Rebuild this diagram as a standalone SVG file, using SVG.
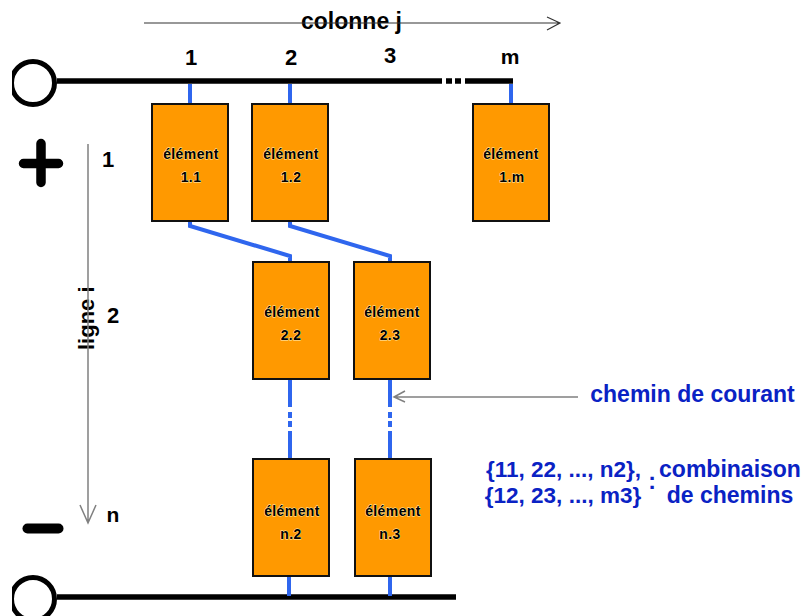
<svg xmlns="http://www.w3.org/2000/svg" width="805" height="616" viewBox="0 0 805 616">
<style>
text{font-family:"Liberation Sans",Arial,sans-serif;font-weight:bold;fill:#000}
.el rect{fill:#ff9900;stroke:#111;stroke-width:2}
.el text{font-size:14px;letter-spacing:.4px;text-anchor:middle;stroke:#fff3c0;stroke-width:.8px;paint-order:stroke}
.num{font-size:22px;text-anchor:middle}
.blue{font-size:23px;fill:#0a22c4;text-anchor:middle}
.br{font-size:22.500px}
.w{fill:none;stroke:#2f66ee;stroke-width:4}
.bus{fill:none;stroke:#000;stroke-width:5.500}
.thin{fill:none;stroke:#808080;stroke-width:1.500}
.thinb{fill:none;stroke:#333;stroke-width:1.200}
</style>
<rect width="805" height="616" fill="#fff"/>
<g id="terminal-top"><circle cx="33" cy="83" r="21.500" fill="#fff" stroke="#000" stroke-width="5"/></g>
<g id="terminal-bottom"><circle cx="33" cy="599" r="21.500" fill="#fff" stroke="#000" stroke-width="5"/></g>
<rect x="0" y="50" width="12" height="66" fill="#fff"/>
<rect x="0" y="570" width="12" height="46" fill="#fff"/>
<g id="plus"><path d="M41 143.500V182.500M23.500 163.500H58.500" fill="none" stroke="#000" stroke-width="9.500" stroke-linecap="round"/></g>
<g id="minus"><path d="M27.500 528.500H58.500" fill="none" stroke="#000" stroke-width="10" stroke-linecap="round"/></g>
<g id="e11" class="el"><rect x="152" y="104" width="76" height="117"/><text x="191" y="159">élément</text><text x="191" y="182">1.1</text></g>
<g id="e12" class="el"><rect x="252" y="104" width="76" height="117"/><text x="291" y="159">élément</text><text x="291" y="182">1.2</text></g>
<g id="e1m" class="el"><rect x="473" y="104" width="76" height="117"/><text x="511" y="159">élément</text><text x="512" y="182">1.m</text></g>
<g id="e22" class="el"><rect x="253" y="262" width="76" height="117"/><text x="292" y="317">élément</text><text x="291" y="340">2.2</text></g>
<g id="e23" class="el"><rect x="354" y="262" width="76" height="117"/><text x="392" y="317">élément</text><text x="390" y="340">2.3</text></g>
<g id="en2" class="el"><rect x="253" y="459" width="76" height="117"/><text x="292" y="516">élément</text><text x="291" y="539">n.2</text></g>
<g id="en3" class="el"><rect x="355" y="459" width="76" height="117"/><text x="393" y="516">élément</text><text x="390" y="539">n.3</text></g>
<g id="labels">
<text x="351.500" y="29" font-size="23" text-anchor="middle">colonne j</text>
<text class="num" x="191" y="65">1</text>
<text class="num" x="291" y="65">2</text>
<text class="num" x="390" y="63">3</text>
<text class="num" x="510" y="64" style="font-size:21px">m</text>
<text class="num" x="108" y="167">1</text>
<text class="num" x="113" y="323">2</text>
<text class="num" x="113" y="522" style="font-size:21px">n</text>
<text transform="translate(94 350) rotate(-90)" font-size="22">ligne i</text>
<text class="blue" x="692.500" y="402">chemin de courant</text>
<text class="blue br" x="563.500" y="477">{11, 22, ..., n2},</text>
<text class="blue br" x="563" y="503">{12, 23, ..., m3}</text>
<text class="blue" x="652" y="489">:</text>
<text class="blue" x="730" y="477">combinaison</text>
<text class="blue" x="730" y="503">de chemins</text>
</g>
<g id="connectors">
<path class="thinb" d="M144 23H560M547 17L560 23L547 30"/>
<path class="thin" d="M88 144V523M80 505L88 523L96 505"/>
<path class="thin" d="M578 397H394M405 391L394 397L405 402"/>
<path class="bus" d="M57 81H442M446 81H452M455 81H461M465 81H513"/>
<path class="bus" d="M57 597H456"/>
<path class="w" d="M190 84V103M290 84V103M511 84V103"/>
<path class="w" d="M190 222V226L290 256V261M290 222V226L390 256V261"/>
<path class="w" d="M290 380V407M290 412V418M290 421V427M290 431V458"/>
<path class="w" d="M390 380V407M390 412V418M390 421V427M390 431V458"/>
<path class="w" d="M289 577V596M390 577V596"/>
</g>
</svg>
